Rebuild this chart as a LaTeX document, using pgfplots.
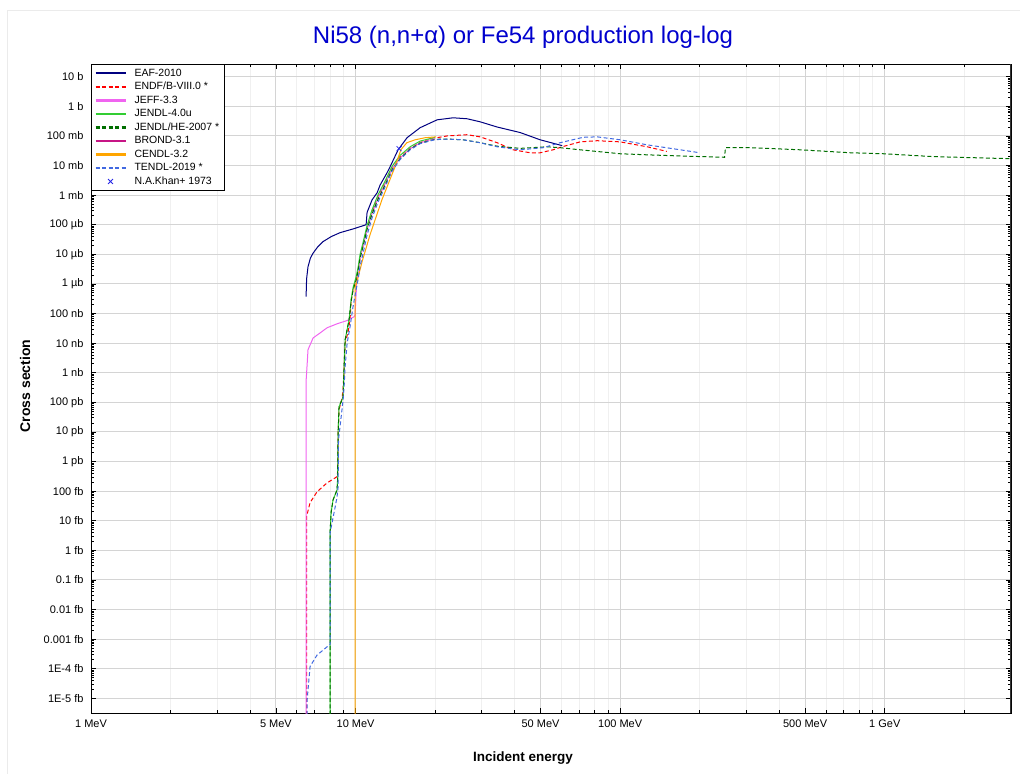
\documentclass[border=0pt]{standalone}
\usepackage{pgfplots}
\pgfplotsset{compat=1.18}
\usepackage{fontspec}
\setmainfont{Liberation Sans}
\definecolor{eaf}{RGB}{0,0,128}
\definecolor{endf}{RGB}{255,0,0}
\definecolor{jeff}{RGB}{240,100,240}
\definecolor{jendlf}{RGB}{50,205,50}
\definecolor{jendlhe}{RGB}{0,110,0}
\definecolor{brond}{RGB}{199,21,133}
\definecolor{cendl}{RGB}{255,165,0}
\definecolor{tendl}{RGB}{65,105,225}
\definecolor{khan}{RGB}{40,40,230}
\definecolor{titleblue}{RGB}{0,0,205}
\pgfplotsset{lineleg/.style={legend image code/.code={\path[draw=none] (0pt,0pt) -- (37pt,0pt);\draw[##1, line width=2.2pt] (0pt,0pt) -- (30pt,0pt);}},
  markleg/.style={legend image code/.code={\path[draw=none] (0pt,0pt) -- (37pt,0pt);\draw[##1] plot coordinates {(15pt,0pt)};}}}
\tikzset{dsh/.style={dash pattern=on 4pt off 2.5pt}}
\begin{document}
\begin{tikzpicture}
\useasboundingbox (0pt,0pt) rectangle (1020pt,774pt);
\draw[black!8] (7pt,0pt) -- (7pt,764pt) -- (1020pt,764pt);
\node[font=\fontsize{24}{28}\selectfont, text=titleblue] at (523pt,737pt) {Ni58 (n,n+α) or Fe54 production log-log};
\node[font=\bfseries\fontsize{13.5}{15}\selectfont] at (523pt,16pt) {Incident energy};
\node[font=\bfseries\fontsize{14}{16}\selectfont, rotate=90] at (25pt,388pt) {Cross section};
\begin{axis}[at={(91pt,61pt)}, anchor=south west, scale only axis,
  width=920pt, height=649pt,
  xmode=log, ymode=log, xmin=1, xmax=3000, ymin=3.2e-21, ymax=26.9,
  axis line style={black, line width=1pt},
  xmajorgrids, xminorgrids, ymajorgrids,
  major grid style={draw=black!17, line width=1pt},
  minor grid style={draw=black!6, line width=0.8pt},
  xtick={1,5,10,50,100,500,1000},
  xticklabels={1 MeV,5 MeV,10 MeV,50 MeV,100 MeV,500 MeV,1 GeV},
  minor xtick={2,3,4,6,7,8,9,20,30,40,60,70,80,90,200,300,400,600,700,800,900,2000,3000},
  ytick={1e-20,1e-19,1e-18,1e-17,1e-16,1e-15,1e-14,1e-13,1e-12,1e-11,1e-10,1e-9,1e-8,1e-7,1e-6,1e-5,1e-4,1e-3,1e-2,1e-1,1,10},
  yticklabels={1E-5 fb,1E-4 fb,0.001 fb,0.01 fb,0.1 fb,1 fb,10 fb,100 fb,1 pb,10 pb,100 pb,1 nb,10 nb,100 nb,1 µb,10 µb,100 µb,1 mb,10 mb,100 mb,1 b,10 b},
  ticklabel style={font=\fontsize{11}{13}\selectfont},
  yticklabel style={xshift=-4pt},
  xticklabel style={yshift=-3pt},
  tick style={black, line width=0.8pt},
  tick align=inside, major tick length=5pt, minor tick length=3pt,
  legend style={at={(0,1)}, anchor=north west, draw=black, line width=0.8pt, fill=white,
     font=\fontsize{10.5}{12}\selectfont, inner xsep=3pt, inner ysep=2.5pt, row sep=0.6pt},
  legend cell align=left,
]
% EAF-2010
\addplot[eaf, line width=1pt, lineleg] coordinates {
(6.50,3.7e-7)(6.53,1.5e-6)(6.61,3.8e-6)(6.75,7.5e-6)(6.91,1.1e-5)(7.2,1.8e-5)(7.54,2.7e-5)(8.1,4.0e-5)(8.74,5.4e-5)(9.78,7.2e-5)
(10.96,1.0e-4)(11.05,2.6e-4)(11.54,6.9e-4)(12.06,1.2e-3)(12.38,2.2e-3)(13.15,5.7e-3)
(13.50,9.1e-3)(14.48,0.034)(15.65,0.087)(17.54,0.19)(20.33,0.35)(23.37,0.41)(26.4,0.38)
(29.56,0.30)(34.28,0.20)(41.88,0.13)(49.84,0.074)(60.35,0.047)};
\addlegendentry{EAF-2010}
% ENDF/B-VIII.0
\addplot[endf, line width=1pt, dsh, lineleg] coordinates {
(6.53,1e-21)(6.53,1.4e-14)(6.73,4.1e-14)(7.15,9.5e-14)(7.80,1.9e-13)(8.37,2.8e-13)
(8.51,3.1e-13)(8.55,4.2e-13)(8.59,9.3e-12)(8.66,5.6e-11)(8.89,1.4e-10)(8.97,2.7e-10)
(9.05,1.6e-9)(9.13,1.0e-8)(9.37,2.4e-8)(9.53,6.2e-8)(9.62,2.9e-7)(9.78,6.3e-7)
(10.04,1.4e-6)(10.22,3.0e-6)(10.40,8.3e-6)(10.68,2.1e-5)(11.05,7.9e-5)(11.54,2.7e-4)
(12.17,8.9e-4)(12.93,2.6e-3)(13.74,8.0e-3)(14.73,0.019)(16.07,0.038)(17.54,0.060)
(19.98,0.085)(22.18,0.10)(26.41,0.11)(29.56,0.093)(34.28,0.059)(39.39,0.034)
(45.67,0.027)(49.84,0.027)(55.82,0.034)(60.35,0.043)(70.6,0.063)(81.9,0.069)
(100,0.063)(126.5,0.043)(150,0.030)};
\addlegendentry{ENDF/B-VIII.0 *}
% JEFF-3.3
\addplot[jeff, line width=1pt, lineleg] coordinates {
(6.50,1e-21)(6.505,5.8e-10)(6.56,1.9e-9)(6.61,6e-9)(6.91,1.5e-8)(7.34,2.2e-8)
(7.80,3.3e-8)(8.51,4.5e-8)(9.29,5.8e-8)(9.87,7.8e-8)(9.95,9e-8)(10.10,1.1e-6)
(10.22,2.8e-6)(10.40,7.5e-6)(10.68,1.9e-5)(11.05,7.0e-5)(11.54,2.4e-4)(12.17,8.0e-4)
(12.93,2.4e-3)(13.74,7.8e-3)(14.73,0.018)(16.07,0.037)(17.54,0.058)(19.98,0.084)};
\addlegendentry{JEFF-3.3}
% JENDL-4.0u
\addplot[jendlf, line width=1pt, lineleg] coordinates {
(8.01,1e-21)(8.01,3.9e-15)(8.08,1.9e-14)(8.22,5.1e-14)(8.51,1.1e-13)(8.55,2.4e-13)
(8.59,9.3e-12)(8.66,7.1e-11)(8.97,1.5e-10)(9.05,1.6e-9)(9.13,1.3e-8)(9.45,6.2e-8)
(9.62,2.9e-7)(9.78,7.5e-7)(10.04,1.7e-6)(10.22,3.6e-6)(10.40,1.0e-5)(10.68,2.6e-5)
(11.05,9.5e-5)(11.54,3.2e-4)(12.17,1.05e-3)(12.93,3.0e-3)(13.74,9.5e-3)(14.73,0.022)
(16.07,0.043)(17.54,0.067)(19.98,0.090)};
\addlegendentry{JENDL-4.0u}
% JENDL/HE-2007
\addplot[jendlhe, line width=1pt, dsh, lineleg] coordinates {
(8.01,1e-21)(8.01,3.9e-15)(8.08,1.9e-14)(8.22,5.1e-14)(8.51,1.1e-13)(8.55,2.4e-13)
(8.59,9.3e-12)(8.66,7.1e-11)(8.97,1.5e-10)(9.05,1.6e-9)(9.13,1.3e-8)(9.45,6.2e-8)
(9.62,2.6e-7)(9.78,6.0e-7)(10.04,1.3e-6)(10.22,2.8e-6)(10.40,7.5e-6)(10.68,1.9e-5)
(11.05,7.0e-5)(11.54,2.3e-4)(12.17,7.5e-4)(12.93,2.2e-3)(13.74,7.2e-3)(14.73,0.017)
(16.07,0.036)(17.54,0.057)(19.98,0.077)(22.5,0.078)(25.5,0.074)(29.56,0.059)
(34.28,0.045)(41.88,0.038)(52.96,0.043)(59.3,0.040)(70.6,0.034)(100,0.025)
(126.5,0.023)(168.6,0.021)(248,0.019)(250,0.040)(310,0.040)(479,0.034)(741,0.027)
(987,0.025)(1526,0.020)(3000,0.017)};
\addlegendentry{JENDL/HE-2007 *}
% BROND-3.1
\addplot[brond, line width=1pt, lineleg] coordinates {
(6.50,1e-21)(6.50,2e-21)};
\addlegendentry{BROND-3.1}
% CENDL-3.2
\addplot[cendl, line width=1pt, lineleg] coordinates {
(9.96,1e-21)(9.96,8e-7)(10.10,1.1e-6)(10.58,5.6e-6)(11.34,4.6e-5)(12.57,6.9e-4)
(14.10,9.1e-3)(14.83,0.034)(15.62,0.059)(16.79,0.074)(18.32,0.087)(20.15,0.093)};
\addlegendentry{CENDL-3.2}
% TENDL-2019
\addplot[tendl, line width=1pt, dsh, lineleg] coordinates {
(6.56,1e-21)(6.56,8.9e-21)(6.73,1.2e-19)(7.15,2.9e-19)(7.80,5.5e-19)(7.93,6.4e-19)
(8.01,6.5e-19)(8.01,3.9e-15)(8.37,2.9e-14)(8.51,6.4e-14)(8.59,1.4e-13)(8.62,5.5e-12)
(8.97,1.2e-10)(9.05,3.4e-10)(9.13,1.6e-9)(9.29,1.0e-8)(9.53,3.6e-8)(9.78,1.7e-7)
(10.04,6.3e-7)(10.22,1.4e-6)(10.40,4.0e-6)(10.68,1.1e-5)(11.05,4.5e-5)(11.54,1.7e-4)
(12.17,6.0e-4)(12.93,1.9e-3)(13.74,6.5e-3)(14.73,0.016)(16.07,0.034)(17.54,0.055)
(19.98,0.075)(22.5,0.078)(25.5,0.074)(29.56,0.059)(34.28,0.043)(41.88,0.034)
(51.16,0.040)(59.3,0.059)(72.5,0.090)(81.9,0.093)(100,0.074)(126.5,0.050)
(168.6,0.034)(200,0.027)};
\addlegendentry{TENDL-2019 *}
% N.A.Khan+ 1973
\addplot[khan, only marks, mark=x, mark size=3.5pt, line width=0.8pt, markleg] coordinates {(14.6,0.037)};
\addlegendentry{N.A.Khan+ 1973}
\draw[black!80, line width=2.5pt] (rel axis cs:1,0) -- (rel axis cs:1,1);
\end{axis}
\end{tikzpicture}
\end{document}
